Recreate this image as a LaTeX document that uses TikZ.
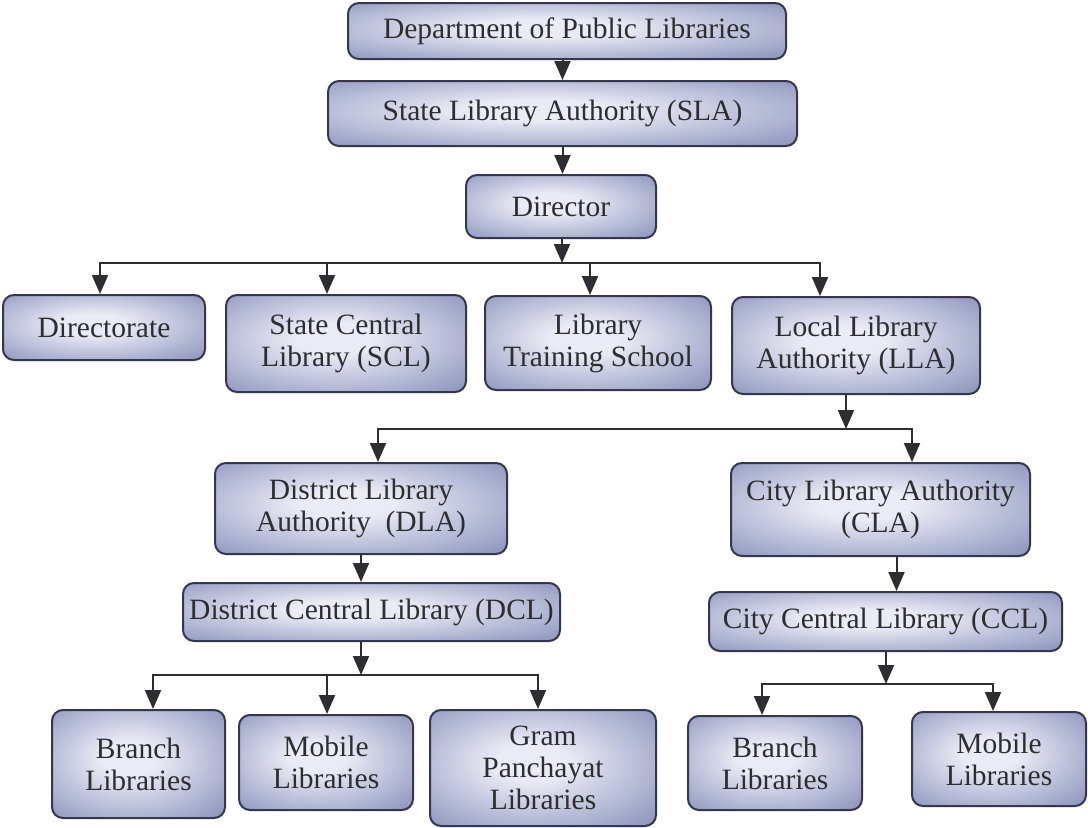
\documentclass[tikz,border=0pt]{standalone}
\usepackage{fontspec}
\setmainfont{Liberation Serif}
\usetikzlibrary{arrows.meta,calc}
\definecolor{boxin}{RGB}{234,235,245}
\definecolor{boxmid}{RGB}{155,162,198}
\definecolor{boxout}{RGB}{92,102,144}
\definecolor{boxdark}{RGB}{66,74,114}
\definecolor{edge}{RGB}{52,55,78}
\definecolor{ink}{RGB}{45,45,50}
\pgfdeclareradialshading{boxshade}{\pgfpoint{-3bp}{3bp}}{color(0bp)=(boxin); color(8bp)=(boxin); color(32bp)=(boxmid); color(54bp)=(boxout); color(72bp)=(boxdark)}
\tikzset{
  box/.style={draw=edge, line width=2pt, rounded corners=11pt, shading=boxshade,
    align=center, inner sep=0pt, text=ink,
    font=\fontsize{29.5}{32}\selectfont},
  arr/.style={draw=ink, line width=2pt, -{Triangle[length=19pt,width=16pt]}},
  ln/.style={draw=ink, line width=2pt}
}
\begin{document}
\begin{tikzpicture}[x=1pt,y=-1pt]
\useasboundingbox (0,0) rectangle (1088,828);
\fill[white] (0,0) rectangle (1088,828);

\node[box, minimum width=438pt, minimum height=56pt] (dept) at (567,31) {Department of Public Libraries};
\node[box, minimum width=469pt, minimum height=65pt] (sla) at (562.5,113.5) {State Library Authority (SLA)};
\node[box, minimum width=190pt, minimum height=63pt] (dir) at (561,206.5) {Director};
\node[box, minimum width=202pt, minimum height=65pt] (dirate) at (104,327.5) {Directorate};
\node[box, minimum width=240pt, minimum height=97pt] (scl) at (346,343.5) {State Central\\Library (SCL)};
\node[box, minimum width=226pt, minimum height=94pt] (lts) at (598,343) {Library\\Training School};
\node[box, minimum width=248pt, minimum height=97pt] (lla) at (856,345.5) {Local Library\\Authority (LLA)};
\node[box, minimum width=292pt, minimum height=91pt] (dla) at (361,508.5) {District Library\\Authority\ \ (DLA)};
\node[box, minimum width=299pt, minimum height=93pt] (cla) at (880.5,509.5) {City Library Authority\\(CLA)};
\node[box, minimum width=377pt, minimum height=58pt] (dcl) at (371.5,612) {District Central Library (DCL)};
\node[box, minimum width=353pt, minimum height=59pt] (ccl) at (885.5,621.5) {City Central Library (CCL)};
\node[box, minimum width=173pt, minimum height=108pt] (br1) at (138.5,764) {Branch\\Libraries};
\node[box, minimum width=174pt, minimum height=95pt] (mo1) at (326,762.5) {Mobile\\Libraries};
\node[box, minimum width=226pt, minimum height=116pt] (gram) at (543,768) {Gram\\Panchayat\\Libraries};
\node[box, minimum width=174pt, minimum height=94pt] (br2) at (775,763) {Branch\\Libraries};
\node[box, minimum width=174pt, minimum height=94pt] (mo2) at (999,759) {Mobile\\Libraries};

\coordinate (j1) at (562,263);
\coordinate (j2) at (846,429);
\coordinate (j3) at (361,675);
\coordinate (j4) at (886,684);
\coordinate (c1) at ($(cla.south)+(16,0)$);

\draw[arr] (dept.south -| sla.north) -- (sla.north);
\draw[arr] (sla.south) -- (sla.south |- dir.north);
\draw[arr] (dir.south -| j1) -- (j1);
\draw[arr] (j1) -| ($(dirate.north)+(-4,0)$);
\draw[arr] (j1) -| ($(scl.north)+(-19,0)$);
\draw[arr] (j1) -| ($(lts.north)+(-8,0)$);
\draw[arr] (j1) -| ($(lla.north)+(-36,0)$);

\draw[arr] (lla.south -| j2) -- (j2);
\draw[arr] (j2) -| ($(dla.north)+(17,0)$);
\draw[arr] (j2) -| ($(cla.north)+(31.5,0)$);

\draw[arr] (dla.south) -- (dla.south |- dcl.north);
\draw[arr] (c1) -- (c1 |- ccl.north);

\draw[arr] (dcl.south -| j3) -- (j3);
\draw[arr] (j3) -| ($(br1.north)+(14.5,0)$);
\draw[arr] (j3) -| ($(mo1.north)+(1,0)$);
\draw[arr] (j3) -| ($(gram.north)+(-5,0)$);

\draw[arr] (ccl.south -| j4) -- (j4);
\draw[arr] (j4) -| ($(br2.north)+(-13,0)$);
\draw[arr] (j4) -| ($(mo2.north)+(-6,0)$);
\end{tikzpicture}
\end{document}
